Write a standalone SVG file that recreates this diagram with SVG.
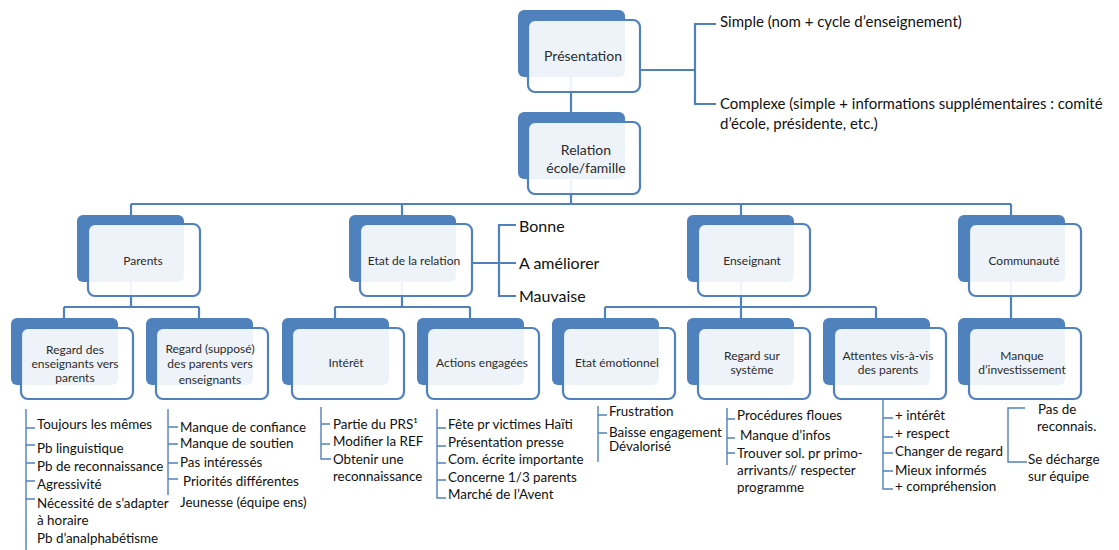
<svg xmlns="http://www.w3.org/2000/svg" width="1119" height="550" viewBox="0 0 1119 550">
<style>
.back{fill:#4F81BD}
.front{fill:#fff;fill-opacity:.9;stroke:#4F81BD;stroke-width:2.2}
.con{stroke:#4F81BD;stroke-width:2.2;fill:none}
.ll{stroke:#4F81BD;stroke-width:1.4;fill:none}
text{font-family:Lato,"Liberation Sans",sans-serif;dominant-baseline:central}
.lbl{font-size:12px;fill:#2b2b2b;text-anchor:middle}
.big{font-size:14px;fill:#2b2b2b;text-anchor:middle}
.leaf{font-size:13.4px;fill:#111}
.side{font-size:15px;fill:#111}
.opt{font-size:16px;fill:#111}
</style>
<rect width="1119" height="550" fill="#fff"/>
<g id="connectors">
<path class="con" d="M571,77V112M571,178V204M131,204H1011M131,204V215M402,204V215M741,204V215M1011,204V215"/>
<path class="con" d="M640,70H695M716,24H695V104H716"/>
<path class="con" d="M471,263H499M516,225H499V296H516M499,263H516"/>
<path class="con" d="M131,282V307M64,307H199M64,307V318M199,307V318"/>
<path class="con" d="M402,282V307M335,307H470M335,307V318M470,307V318"/>
<path class="con" d="M741,282V307M605,307H876M605,307V318M741,307V318M876,307V318"/>
<path class="con" d="M1011,282V318"/>
<path class="ll" d="M26,409V550M26,428H35M26,445H35M26,463H35M26,481H35M26,499H35"/>
<path class="ll" d="M168,409V495M168,427H178M168,444H178M168,463H178M168,479H178"/>
<path class="ll" d="M321,407V459H331M321,424H330M321,444H330"/>
<path class="ll" d="M437,409V498H446M437,428H446M437,446H446M437,463H446M437,480H446"/>
<path class="ll" d="M598,406V462M598,415H607M598,433H607"/>
<path class="ll" d="M727,408V465M727,419H735M727,438H735M727,453H735"/>
<path class="ll" d="M883,399V489H893M883,418H893M883,437H893M883,453H893M883,471H893"/>
<path class="ll" d="M1025,408H1008V462H1027"/>
</g>
<g id="presentation"><rect class="back" x="518" y="10" width="107" height="67" rx="6"/><rect class="front" x="528" y="20" width="112" height="72" rx="7"/><text class="big" x="583" y="55">Présentation</text></g>
<g id="relation"><rect class="back" x="518" y="112" width="107" height="67" rx="6"/><rect class="front" x="528" y="122" width="112" height="72" rx="7"/><text class="big" x="586" y="149">Relation</text><text class="big" x="586" y="167">école/famille</text></g>
<g id="parents"><rect class="back" x="77" y="215" width="107" height="67" rx="6"/><rect class="front" x="88" y="224" width="112" height="72" rx="7"/><text class="lbl" x="143" y="260">Parents</text></g>
<g id="etat-relation"><rect class="back" x="349" y="215" width="107" height="67" rx="6"/><rect class="front" x="360" y="224" width="112" height="72" rx="7"/><text class="lbl" x="414" y="260">Etat de la relation</text></g>
<g id="enseignant"><rect class="back" x="687" y="215" width="107" height="67" rx="6"/><rect class="front" x="698" y="224" width="112" height="72" rx="7"/><text class="lbl" x="752" y="260">Enseignant</text></g>
<g id="communaute"><rect class="back" x="958" y="215" width="107" height="67" rx="6"/><rect class="front" x="969" y="224" width="112" height="72" rx="7"/><text class="lbl" x="1024" y="260">Communauté</text></g>
<g id="regard-ens"><rect class="back" x="11" y="318" width="107" height="67" rx="6"/><rect class="front" x="21" y="328" width="112" height="71" rx="7"/><text class="lbl" x="75" y="349">Regard des</text><text class="lbl" x="75" y="363">enseignants vers</text><text class="lbl" x="75" y="377">parents</text></g>
<g id="regard-parents"><rect class="back" x="146" y="318" width="107" height="67" rx="6"/><rect class="front" x="156" y="328" width="112" height="71" rx="7"/><text class="lbl" x="210" y="348">Regard (supposé)</text><text class="lbl" x="210" y="363">des parents vers</text><text class="lbl" x="210" y="379">enseignants</text></g>
<g id="interet"><rect class="back" x="282" y="318" width="107" height="67" rx="6"/><rect class="front" x="292" y="328" width="112" height="71" rx="7"/><text class="lbl" x="346" y="362">Intérêt</text></g>
<g id="actions"><rect class="back" x="417" y="318" width="107" height="67" rx="6"/><rect class="front" x="427" y="328" width="112" height="71" rx="7"/><text class="lbl" x="482" y="362">Actions engagées</text></g>
<g id="etat-emotionnel"><rect class="back" x="552" y="318" width="107" height="67" rx="6"/><rect class="front" x="563" y="328" width="112" height="71" rx="7"/><text class="lbl" x="617" y="362">Etat émotionnel</text></g>
<g id="regard-systeme"><rect class="back" x="687" y="318" width="107" height="67" rx="6"/><rect class="front" x="698" y="328" width="112" height="71" rx="7"/><text class="lbl" x="752" y="355">Regard sur</text><text class="lbl" x="752" y="369">système</text></g>
<g id="attentes"><rect class="back" x="823" y="318" width="107" height="67" rx="6"/><rect class="front" x="834" y="328" width="112" height="71" rx="7"/><text class="lbl" x="888" y="355">Attentes vis-à-vis</text><text class="lbl" x="888" y="369">des parents</text></g>
<g id="manque"><rect class="back" x="958" y="318" width="107" height="67" rx="6"/><rect class="front" x="969" y="328" width="112" height="71" rx="7"/><text class="lbl" x="1022" y="355">Manque</text><text class="lbl" x="1022" y="369">d’investissement</text></g>
<g id="presentation-items">
<text class="side" x="720" y="21">Simple (nom + cycle d’enseignement)</text>
<text class="side" x="720" y="103">Complexe (simple + informations supplémentaires : comité</text>
<text class="side" x="720" y="123">d’école, présidente, etc.)</text>
</g>
<g id="etat-items">
<text class="opt" x="519" y="225">Bonne</text>
<text class="opt" x="519" y="262">A améliorer</text>
<text class="opt" x="519" y="295">Mauvaise</text>
</g>
<g id="regard-ens-items">
<text class="leaf" x="37" y="424">Toujours les mêmes</text>
<text class="leaf" x="37" y="448">Pb linguistique</text>
<text class="leaf" x="37" y="466">Pb de reconnaissance</text>
<text class="leaf" x="37" y="484">Agressivité</text>
<text class="leaf" x="37" y="503">Nécessité de s’adapter</text>
<text class="leaf" x="37" y="520">à horaire</text>
<text class="leaf" x="37" y="538">Pb d’analphabétisme</text>
</g>
<g id="regard-parents-items">
<text class="leaf" x="180" y="427">Manque de confiance</text>
<text class="leaf" x="180" y="443">Manque de soutien</text>
<text class="leaf" x="180" y="462">Pas intéressés</text>
<text class="leaf" x="183" y="481">Priorités différentes</text>
<text class="leaf" x="180" y="502">Jeunesse (équipe ens)</text>
</g>
<g id="interet-items">
<text class="leaf" x="333" y="424">Partie du PRS¹</text>
<text class="leaf" x="333" y="441">Modifier la REF</text>
<text class="leaf" x="333" y="459">Obtenir une</text>
<text class="leaf" x="333" y="476">reconnaissance</text>
</g>
<g id="actions-items">
<text class="leaf" x="448" y="424">Fête pr victimes Haïti</text>
<text class="leaf" x="448" y="442">Présentation presse</text>
<text class="leaf" x="448" y="459">Com. écrite importante</text>
<text class="leaf" x="448" y="477">Concerne 1/3 parents</text>
<text class="leaf" x="448" y="494">Marché de l’Avent</text>
</g>
<g id="emotion-items">
<text class="leaf" x="609" y="411">Frustration</text>
<text class="leaf" x="609" y="432">Baisse engagement</text>
<text class="leaf" x="609" y="446">Dévalorisé</text>
</g>
<g id="systeme-items">
<text class="leaf" x="737" y="415">Procédures floues</text>
<text class="leaf" x="740" y="435">Manque d’infos</text>
<text class="leaf" x="737" y="453">Trouver sol. pr primo-</text>
<text class="leaf" x="737" y="470">arrivants// respecter</text>
<text class="leaf" x="737" y="487">programme</text>
</g>
<g id="attentes-items">
<text class="leaf" x="895" y="415">+ intérêt</text>
<text class="leaf" x="895" y="433">+ respect</text>
<text class="leaf" x="895" y="451">Changer de regard</text>
<text class="leaf" x="895" y="470">Mieux informés</text>
<text class="leaf" x="895" y="486">+ compréhension</text>
</g>
<g id="manque-items">
<text class="leaf" x="1038" y="409">Pas de</text>
<text class="leaf" x="1037" y="426">reconnais.</text>
<text class="leaf" x="1028" y="459">Se décharge</text>
<text class="leaf" x="1028" y="476">sur équipe</text>
</g>
</svg>
